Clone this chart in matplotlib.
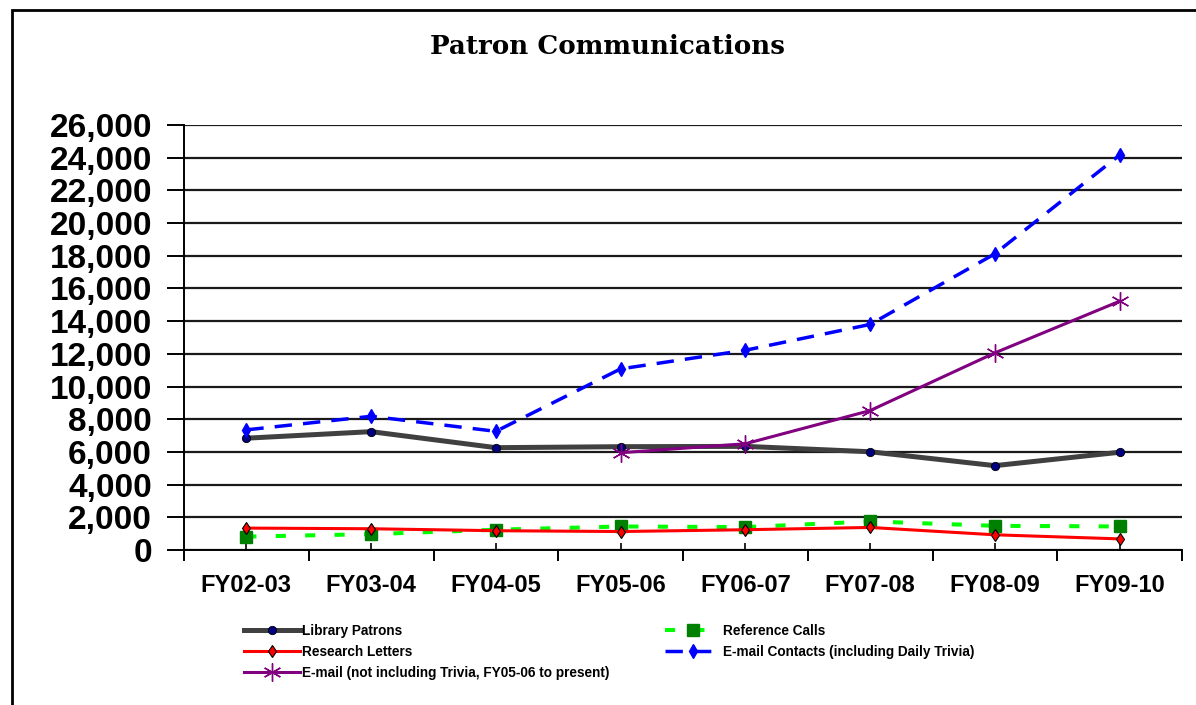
import numpy as np
import matplotlib.pyplot as plt
from matplotlib.patches import Rectangle
from matplotlib.ticker import FuncFormatter, FixedLocator

# Data
years = ['FY02-03', 'FY03-04', 'FY04-05', 'FY05-06', 'FY06-07', 'FY07-08', 'FY08-09', 'FY09-10']
library_patrons = [6840, 7240, 6260, 6320, 6340, 6010, 5160, 5980]
reference_calls = [820, 970, 1240, 1440, 1400, 1750, 1480, 1440]
research_letters = [1340, 1300, 1180, 1130, 1240, 1380, 930, 680]
email_contacts = [7350, 8180, 7260, 11080, 12220, 13800, 18120, 24160]
email_no_trivia = [np.nan, np.nan, np.nan, 5950, 6500, 8530, 12060, 15220]

W, H = 1196, 705
fig = plt.figure(figsize=(W / 100, H / 100), dpi=100)
fig.patch.set_facecolor('white')

# axes box in pixels: left 184, right 1182, top 125, bottom 550
ax = fig.add_axes([184 / W, 1 - 550 / H, (1182 - 184) / W, (550 - 125) / H])
x = np.arange(len(years))

ax.plot(x, library_patrons, color='#404040', lw=3.6, marker='o', ms=6,
        mfc='#000080', mec='black', mew=0.6, label='Library Patrons', zorder=4)
ax.plot(x, research_letters, color='#ff0000', lw=2.2, marker='d', ms=6,
        mfc='#ff0000', mec='black', mew=0.8, label='Research Letters', zorder=4)
ax.plot(x, email_no_trivia, color='#800080', lw=2.2, marker=(6, 2, 0), ms=13,
        mec='#800080', mew=1.0, label='E-mail (not including Trivia, FY05-06 to present)', zorder=5)
ax.plot(x, reference_calls, color='#00ff00', lw=2.9, ls=(0, (2.5, 4.8)), marker='s', ms=8,
        mfc='#008000', mec='#008000', label='Reference Calls', zorder=3)
ax.plot(x, email_contacts, color='#0000ff', lw=2.5, ls=(0, (5.0, 3.2)), marker='d', ms=7.5,
        mfc='#0000ff', mec='#0000ff', label='E-mail Contacts (including Daily Trivia)', zorder=4)

ax.set_xlim(-0.5, len(years) - 0.5)
ax.set_ylim(0, 26000)
ax.set_yticks(np.arange(0, 26001, 2000))
ax.yaxis.set_major_formatter(FuncFormatter(lambda v, p: f'{int(v):,}'))
ax.grid(axis='y', color='#1a1a1a', lw=1.6)
ax.set_axisbelow(True)

for s in ['top', 'right']:
    ax.spines[s].set_visible(False)
for s in ['left', 'bottom']:
    ax.spines[s].set_linewidth(1.4)
    ax.spines[s].set_color('black')

ax.set_xticks(x)
ax.set_xticklabels(years)
ax.xaxis.set_minor_locator(FixedLocator(np.arange(-0.5, len(years), 1.0)))
ax.tick_params(axis='x', which='major', direction='in', length=5, width=1.2, pad=17,
               labelsize=17)
ax.tick_params(axis='x', which='minor', direction='out', length=8, width=1.4)
ax.tick_params(axis='y', direction='out', length=12, width=1.4, pad=11, labelsize=24)
for lab in ax.get_xticklabels():
    lab.set_fontfamily('Liberation Sans')
    lab.set_fontweight('bold')
for lab in ax.get_yticklabels():
    lab.set_fontfamily('Liberation Sans')
    lab.set_fontweight('bold')

fig.text(607 / W, 1 - 46 / H, 'Patron Communications', ha='center', va='center',
         fontsize=18.8, fontweight='bold', family='DejaVu Serif')

leg = fig.legend(loc='upper left', bbox_to_anchor=(244 / W, 1 - 624 / H), ncol=2,
                 frameon=False, borderpad=0, borderaxespad=0, handlelength=4.1,
                 handletextpad=0.15, columnspacing=4.1, labelspacing=0.52, numpoints=1,
                 prop={'family': 'Liberation Sans', 'weight': 'bold', 'size': 9.8})

# outer border (left and top edges visible)
fig.patches.append(Rectangle((12 / W, -0.1), 2, 1.1 - 10 / H, transform=fig.transFigure,
                             fill=False, ec='black', lw=2, clip_on=False))

fig.savefig('out.png', dpi=100)
